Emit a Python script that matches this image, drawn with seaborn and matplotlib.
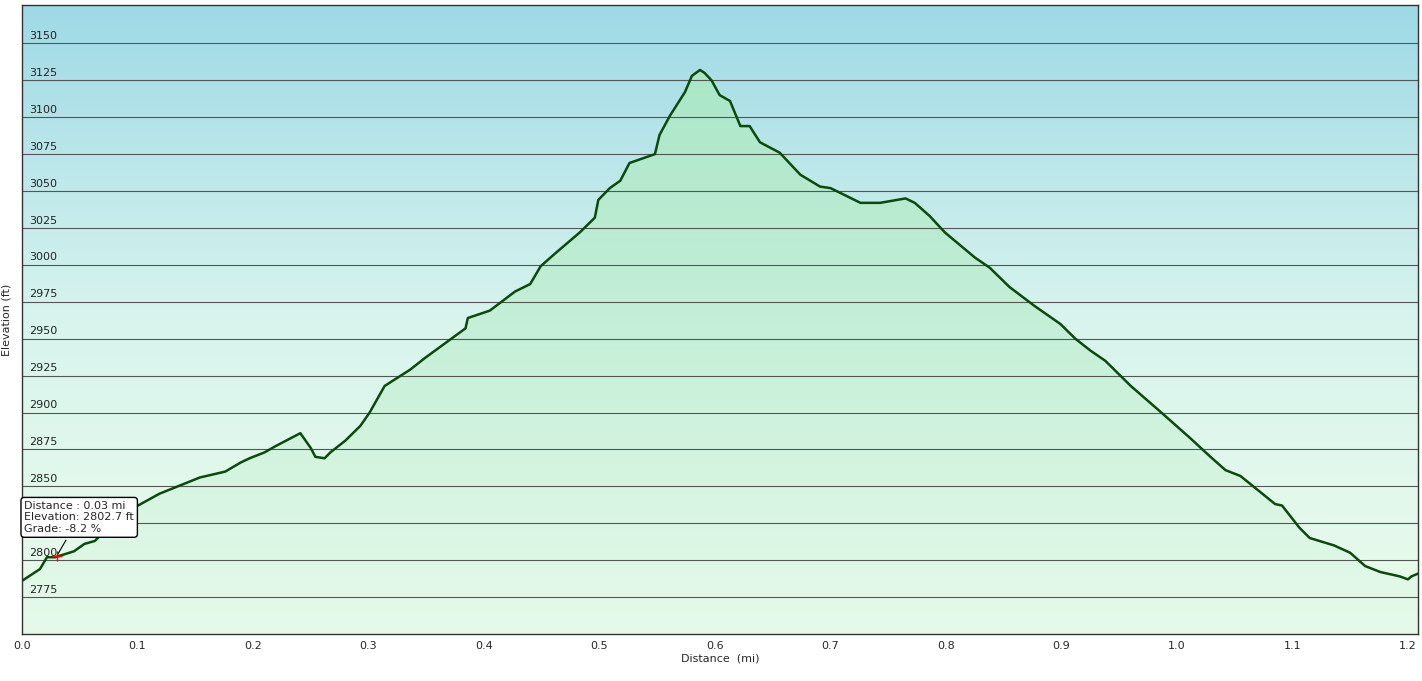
import numpy as np
import pandas as pd
import matplotlib
matplotlib.use("Agg")
import matplotlib.pyplot as plt
import matplotlib.transforms as mtransforms
import seaborn as sns
from matplotlib.colors import LinearSegmentedColormap

distance = [0, 0.0156, 0.0216, 0.0286, 0.045, 0.054, 0.063, 0.076, 0.0935, 0.119, 0.154, 0.176, 0.189, 0.197, 0.210, 0.219, 0.241, 0.250, 0.254, 0.262, 0.267, 0.280, 0.293, 0.301, 0.314, 0.336, 0.349, 0.384, 0.386, 0.405, 0.427, 0.440, 0.449, 0.462, 0.483, 0.496, 0.499, 0.509, 0.518, 0.526, 0.548, 0.552, 0.561, 0.574, 0.580, 0.587, 0.591, 0.597, 0.604, 0.613, 0.622, 0.630, 0.639, 0.656, 0.674, 0.691, 0.700, 0.726, 0.743, 0.765, 0.773, 0.786, 0.799, 0.825, 0.838, 0.855, 0.877, 0.899, 0.912, 0.925, 0.938, 0.960, 0.985, 1.011, 1.029, 1.042, 1.055, 1.085, 1.091, 1.106, 1.115, 1.136, 1.150, 1.163, 1.176, 1.193, 1.200, 1.203, 1.209]
elevation = [2786, 2794, 2802, 2802, 2806, 2811, 2813, 2823, 2834, 2845, 2856, 2860, 2866, 2869, 2873, 2877, 2886, 2876, 2870, 2869, 2873, 2881, 2891, 2900, 2918, 2929, 2937, 2957, 2964, 2969, 2982, 2987, 2999, 3008, 3022, 3032, 3044, 3052, 3057, 3069, 3075, 3088, 3101, 3117, 3128, 3132, 3130, 3125, 3115, 3111, 3094, 3094, 3083, 3076, 3061, 3053, 3052, 3042, 3042, 3045, 3042, 3033, 3022, 3005, 2998, 2985, 2972, 2960, 2950, 2942, 2935, 2918, 2901, 2883, 2870, 2861, 2857, 2838, 2837, 2822, 2815, 2810, 2805, 2796, 2792, 2789, 2787, 2789, 2791]
x_ticks = [0.0, 0.1, 0.2, 0.3, 0.4, 0.5, 0.6, 0.7, 0.8, 0.9, 1.0, 1.1, 1.2]
y_ticks = [2775, 2800, 2825, 2850, 2875, 2900, 2925, 2950, 2975, 3000, 3025, 3050, 3075, 3100, 3125, 3150]
tip_text = "Distance : 0.03 mi\nElevation: 2802.7 ft\nGrade: -8.2 %"

df = pd.DataFrame({"Distance": distance, "Elevation": elevation})
sns.set_style("white")
plt.rcParams['font.family'] = ['Verdana', 'DejaVu Sans']

fig = plt.figure(figsize=(14.22, 6.81), dpi=100)
ax = fig.add_axes([22/1422, 47/681, 1396/1422, 629/681])
x0, x1, y0, y1 = 0, 1.2087, 2750, 3176
ax.set_xlim(x0, x1); ax.set_ylim(y0, y1)

bg = LinearSegmentedColormap.from_list("bg", ["#eafcea", "#d8f4ee", "#9fd9e6"])
grad = np.linspace(0, 1, 256).reshape(-1, 1)
ax.imshow(grad, extent=[x0, x1, y0, y1], origin="lower", aspect="auto", cmap=bg, zorder=0)

fillc = LinearSegmentedColormap.from_list("fl", ["#e6faea", "#a9e6c8"])
im = ax.imshow(grad, extent=[x0, x1, y0, 3135], origin="lower", aspect="auto", cmap=fillc, zorder=1)
poly = ax.fill_between(distance, elevation, y0, color="none")
im.set_clip_path(poly.get_paths()[0], transform=ax.transData)

for t in y_ticks:
    ax.axhline(t, color="#555555", lw=0.8, zorder=2)

sns.lineplot(data=df, x="Distance", y="Elevation", color="#0a4a0a", lw=1.8, ax=ax, zorder=3)

ax.set_xticks(x_ticks)
ax.set_xticklabels([f"{v:.1f}" for v in x_ticks], fontsize=8)
ax.set_yticks(y_ticks)
ax.set_yticklabels([])
ax.tick_params(axis="y", length=0)
trans = mtransforms.blended_transform_factory(ax.transAxes, ax.transData)
for t in y_ticks:
    ax.text(0.005, t + 5, str(t), transform=trans, fontsize=8, ha="left", va="center", color="#222222", zorder=4)
ax.tick_params(axis="x", length=3, pad=2)
ax.set_xlabel("Distance  (mi)", fontsize=8, labelpad=2)
ax.set_ylabel("Elevation (ft)", fontsize=8, labelpad=4)
for s in ax.spines.values():
    s.set_color("#333333"); s.set_linewidth(1)

ax.plot([0.03], [2802.7], marker="+", color="red", ms=7, zorder=5)
ax.annotate(tip_text, xy=(0.03, 2802.7), xytext=(0.002, 2829), fontsize=8, va="center",
            bbox=dict(boxstyle="round,pad=0.3", fc="white", ec="black", lw=1),
            arrowprops=dict(arrowstyle="-", color="black", lw=0.8), zorder=6)

fig.savefig("out.png", dpi=100)
